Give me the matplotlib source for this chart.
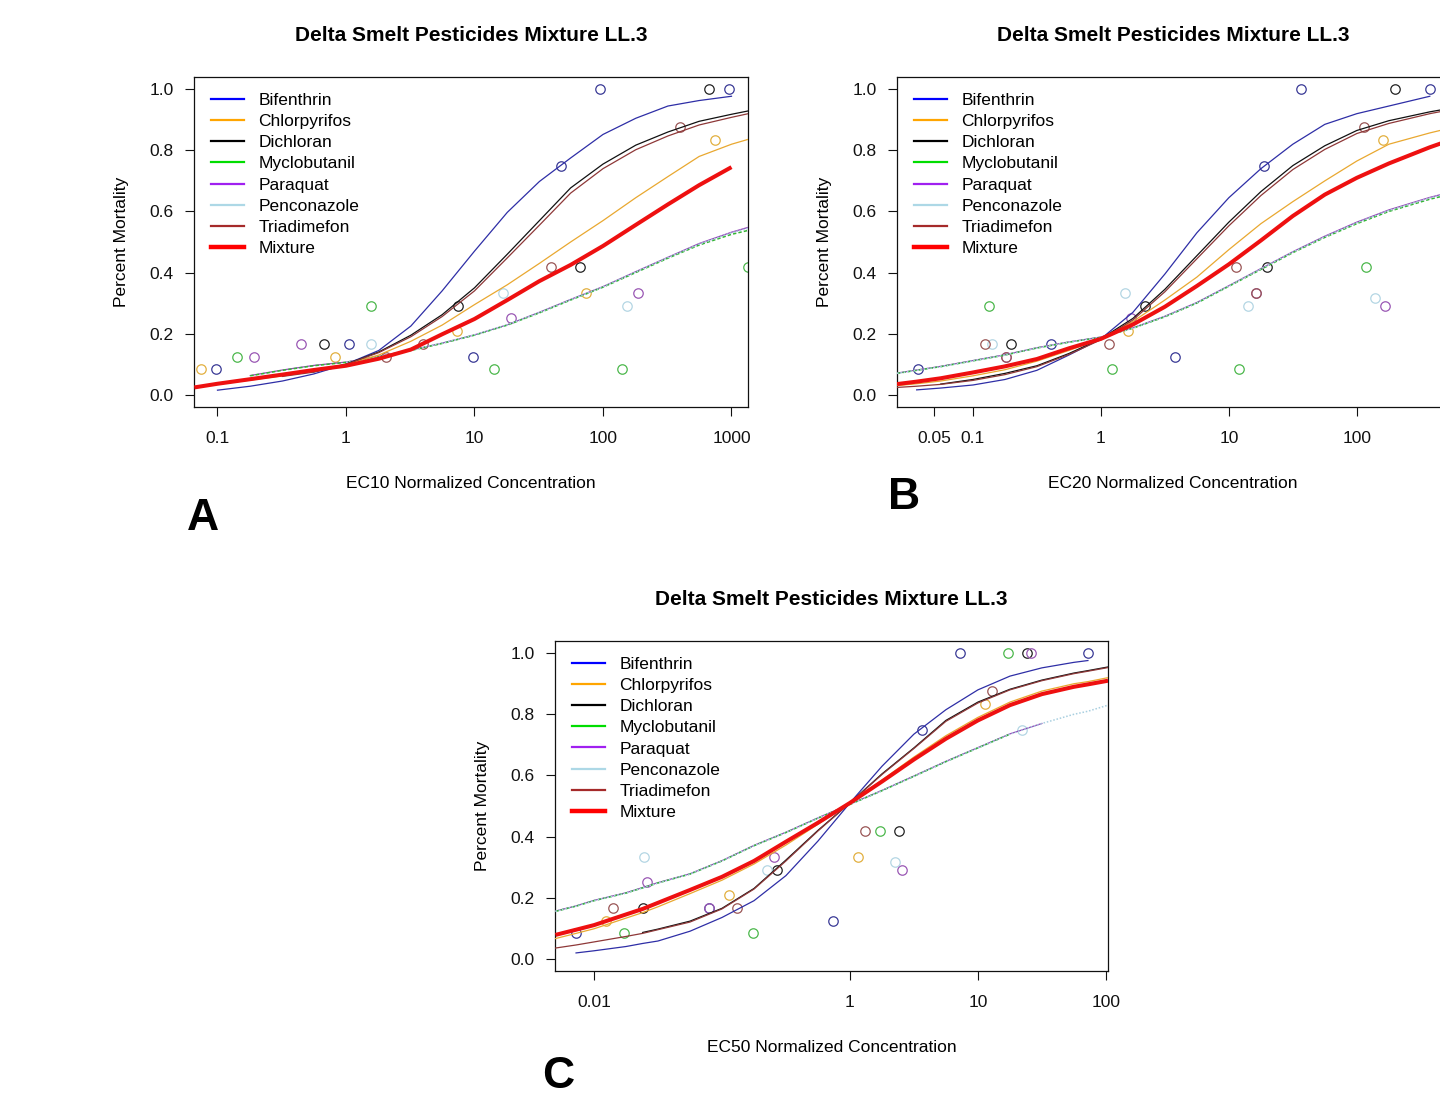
import matplotlib
matplotlib.use('Agg')
import matplotlib.pyplot as plt
from matplotlib.lines import Line2D
from matplotlib.ticker import NullLocator

nan = float('nan')

chemicals = ['Bifenthrin', 'Chlorpyrifos', 'Dichloran', 'Myclobutanil',
             'Paraquat', 'Penconazole', 'Triadimefon', 'Mixture']

# ---- panel A (EC10) : fitted curves
a_conc = [0.066, 0.1, 0.18, 0.32, 0.56, 1, 1.8, 3.2, 5.6, 10, 18, 32, 56, 100,
          180, 320, 560, 1000, 1350]
a_bifenthrin = [nan, 0.015, 0.028, 0.045, 0.068, 0.10, 0.145, 0.225, 0.34, 0.47,
                0.597, 0.698, 0.775, 0.852, 0.905, 0.945, 0.963, 0.977, nan]
a_chlorpyrifos = [nan, 0.035, 0.048, 0.062, 0.08, 0.10, 0.13, 0.175, 0.228, 0.295,
                  0.36, 0.43, 0.5, 0.57, 0.645, 0.714, 0.78, 0.82, 0.836]
a_dichloran = [nan, nan, nan, nan, 0.075, 0.10, 0.14, 0.195, 0.262, 0.35,
               0.46, 0.57, 0.677, 0.755, 0.817, 0.86, 0.895, 0.918, 0.929]
a_myclobutanil = [nan, nan, 0.062, 0.08, 0.095, 0.106, 0.125, 0.145, 0.168, 0.195,
                  0.228, 0.268, 0.31, 0.352, 0.40, 0.447, 0.49, 0.525, 0.538]
a_paraquat = [nan, nan, 0.063, 0.081, 0.096, 0.107, 0.126, 0.146, 0.169, 0.196,
              0.229, 0.27, 0.312, 0.354, 0.403, 0.45, 0.495, 0.532, 0.548]
a_penconazole = [nan, nan, nan, nan, nan, 0.106, 0.125, 0.146, 0.169, 0.196,
                 0.229, 0.269, 0.311, 0.353, 0.402, 0.449, 0.493, 0.53, 0.545]
a_triadimefon = [nan, nan, nan, 0.06, 0.074, 0.10, 0.138, 0.19, 0.256, 0.34,
                 0.448, 0.555, 0.66, 0.74, 0.802, 0.847, 0.883, 0.908, 0.92]
a_mixture = [0.024, 0.036, 0.051, 0.066, 0.081, 0.095, 0.118, 0.148, 0.198, 0.248,
             0.31, 0.372, 0.425, 0.487, 0.556, 0.623, 0.686, 0.745, nan]

# observed responses (concentration, mortality, chemical index)
a_pt_x = [0.098, 1.05, 9.7, 47, 94, 950,
          0.0745, 0.82, 7.3, 74, 740,
          0.675, 7.45, 66.6, 674,
          0.142, 1.57, 14.2, 140, 1350,
          0.192, 0.444, 19.2, 186,
          1.57, 16.7, 155,
          2.05, 3.98, 39.5, 400]
a_pt_y = [0.083, 0.167, 0.125, 0.75, 1.0, 1.0,
          0.083, 0.125, 0.208, 0.333, 0.833,
          0.167, 0.292, 0.417, 1.0,
          0.125, 0.292, 0.083, 0.083, 0.417,
          0.125, 0.167, 0.25, 0.333,
          0.167, 0.333, 0.292,
          0.125, 0.167, 0.417, 0.875]
a_pt_chem = [0] * 6 + [1] * 5 + [2] * 4 + [3] * 5 + [4] * 4 + [5] * 3 + [6] * 4

# ---- panel B (EC20)
b_conc = [0.0255, 0.0363, 0.056, 0.1, 0.178, 0.316, 0.562, 1, 1.78, 3.16, 5.62, 10,
          17.8, 31.6, 56.2, 100, 178, 372, 525]
b_bifenthrin = [nan, 0.016, 0.022, 0.032, 0.05, 0.08, 0.13, 0.183, 0.27, 0.395, 0.53,
                0.645, 0.74, 0.82, 0.885, 0.92, 0.945, 0.977, nan]
b_chlorpyrifos = [0.03, 0.036, 0.045, 0.062, 0.082, 0.11, 0.145, 0.183, 0.24, 0.31,
                  0.385, 0.475, 0.56, 0.632, 0.70, 0.765, 0.82, 0.857, 0.872]
b_dichloran = [nan, nan, 0.035, 0.05, 0.07, 0.095, 0.135, 0.183, 0.25, 0.345, 0.455,
               0.565, 0.665, 0.75, 0.815, 0.865, 0.897, 0.926, 0.937]
b_myclobutanil = [0.07, 0.08, 0.092, 0.111, 0.13, 0.153, 0.172, 0.188, 0.218, 0.255,
                  0.30, 0.355, 0.41, 0.465, 0.515, 0.56, 0.60, 0.64, 0.655]
b_paraquat = [0.071, 0.081, 0.093, 0.112, 0.131, 0.154, 0.173, 0.189, 0.219, 0.257,
              0.302, 0.357, 0.413, 0.468, 0.519, 0.565, 0.605, 0.646, 0.662]
b_penconazole = [0.07, 0.08, 0.092, 0.111, 0.13, 0.153, 0.172, 0.188, 0.218, 0.256,
                 0.301, 0.356, 0.412, 0.467, 0.517, 0.563, 0.603, 0.644, 0.66]
b_triadimefon = [0.024, 0.028, 0.034, 0.047, 0.066, 0.092, 0.132, 0.18, 0.245, 0.337,
                 0.445, 0.553, 0.652, 0.737, 0.803, 0.855, 0.888, 0.92, 0.932]
b_mixture = [0.035, 0.043, 0.054, 0.073, 0.093, 0.117, 0.152, 0.183, 0.23, 0.288,
             0.356, 0.427, 0.505, 0.585, 0.655, 0.71, 0.757, 0.81, 0.832]

b_pt_x = [0.037, 0.41, 3.8, 18.7, 36.8, 372,
          1.62, 161,
          0.198, 2.2, 19.8, 199,
          0.133, 1.22, 11.9, 119,
          0.18, 1.72, 16.2, 166,
          0.141, 1.54, 14, 139,
          0.124, 0.18, 1.15, 11.4, 16.2, 114]
b_pt_y = [0.083, 0.167, 0.125, 0.75, 1.0, 1.0,
          0.208, 0.833,
          0.167, 0.292, 0.417, 1.0,
          0.292, 0.083, 0.083, 0.417,
          0.125, 0.25, 0.333, 0.292,
          0.167, 0.333, 0.292, 0.316,
          0.167, 0.125, 0.167, 0.417, 0.333, 0.875]
b_pt_chem = [0] * 6 + [1] * 2 + [2] * 4 + [3] * 4 + [4] * 4 + [5] * 4 + [6] * 6

# ---- panel C (EC50)
c_conc = [0.005, 0.00724, 0.01, 0.0178, 0.024, 0.0316, 0.0562, 0.1, 0.178, 0.316,
          0.562, 1, 1.78, 3.16, 5.62, 10, 17.8, 31.6, 56.2, 72.4, 104]
c_bifenthrin = [nan, 0.019, 0.026, 0.04, 0.05, 0.058, 0.09, 0.135, 0.19, 0.272,
                0.385, 0.51, 0.63, 0.735, 0.815, 0.88, 0.925, 0.952, 0.97, 0.976, nan]
c_chlorpyrifos = [0.066, 0.083, 0.098, 0.133, 0.151, 0.17, 0.213, 0.257, 0.31, 0.372,
                  0.44, 0.51, 0.585, 0.66, 0.73, 0.79, 0.84, 0.876, 0.9, 0.907, 0.92]
c_dichloran = [nan, nan, nan, nan, 0.086, 0.097, 0.123, 0.165, 0.23, 0.323,
               0.42, 0.51, 0.605, 0.69, 0.78, 0.84, 0.882, 0.912, 0.935, 0.943, 0.955]
c_myclobutanil = [0.155, 0.172, 0.19, 0.215, 0.232, 0.248, 0.277, 0.32, 0.37, 0.413,
                  0.46, 0.505, 0.55, 0.597, 0.645, 0.69, 0.735, nan, nan, nan, nan]
c_paraquat = [0.156, 0.173, 0.191, 0.216, 0.233, 0.249, 0.278, 0.321, 0.371, 0.414,
              0.461, 0.506, 0.551, 0.598, 0.646, 0.691, 0.736, 0.77, nan, nan, nan]
c_penconazole = [0.155, 0.172, 0.19, 0.215, 0.232, 0.248, 0.277, 0.32, 0.37, 0.413,
                 0.46, 0.505, 0.55, 0.597, 0.645, 0.69, 0.735, 0.77, 0.80, 0.81, 0.83]
c_triadimefon = [0.035, 0.045, 0.055, 0.073, 0.083, 0.095, 0.12, 0.163, 0.228, 0.32,
                 0.418, 0.51, 0.603, 0.688, 0.777, 0.837, 0.88, 0.91, 0.933, 0.941, 0.953]
c_mixture = [0.078, 0.095, 0.11, 0.145, 0.163, 0.183, 0.225, 0.268, 0.32, 0.383,
             0.445, 0.51, 0.58, 0.652, 0.72, 0.78, 0.83, 0.866, 0.89, 0.898, 0.91]

c_pt_x = [0.00726, 0.0796, 0.74, 3.67, 7.26, 73,
          0.0125, 0.113, 1.15, 11.3,
          0.024, 0.267, 2.42, 24.2,
          0.0173, 0.174, 1.71, 17.3,
          0.0258, 0.0796, 0.257, 2.55, 25.8,
          0.0245, 0.226, 2.24, 22.3,
          0.0142, 0.13, 1.3, 13]
c_pt_y = [0.083, 0.167, 0.125, 0.75, 1.0, 1.0,
          0.125, 0.208, 0.333, 0.833,
          0.167, 0.292, 0.417, 1.0,
          0.083, 0.083, 0.417, 1.0,
          0.25, 0.167, 0.333, 0.292, 1.0,
          0.333, 0.292, 0.316, 0.75,
          0.167, 0.167, 0.417, 0.875]
c_pt_chem = [0] * 6 + [1] * 4 + [2] * 4 + [3] * 4 + [4] * 5 + [5] * 4 + [6] * 4

legend_colors = ['#0000ff', '#ffa500', '#000000', '#00dd00',
                 '#a020f0', '#add8e6', '#a52a2a', '#ff0000']
curve_colors = ['#2e2ea6', '#e9a830', '#111111', '#33b533',
                '#9448b8', '#a8cfe0', '#8e3838', '#ee1010']
point_colors = ['#3a3a96', '#e2b040', '#222222', '#4cb84c',
                '#9a58b4', '#b4d6e4', '#9a5656']

plt.rcParams['font.family'] = ['Liberation Sans', 'DejaVu Sans']

FS = 12.5
fig = plt.figure(figsize=(14.4, 10.97), dpi=100)


def draw_panel(rect, conc, curves, pt_x, pt_y, pt_chem, xlim, ticks, ticklabels, xlabel):
    ax = fig.add_axes(rect)
    ax.set_xscale('log')
    for x, y, k in zip(pt_x, pt_y, pt_chem):
        ax.plot(x, y, 'o', ms=6.8, mfc='none', mec=point_colors[k], mew=0.9, zorder=2)
    # myclobutanil / paraquat / penconazole overlap, so dash two of them
    styles = {3: dict(ls=(0, (2.2, 1.4)), lw=1.1), 4: dict(ls='-', lw=0.9),
              5: dict(ls=(0, (1, 1.2)), lw=1.1)}
    for k in [4, 3, 5, 0, 1, 2, 6]:
        st = styles.get(k, dict(ls='-', lw=0.9))
        ax.plot(conc, curves[k], color=curve_colors[k], zorder=3, **st)
    ax.plot(conc, curves[7], color=curve_colors[7], lw=2.9, zorder=4,
            solid_capstyle='butt')
    ax.set_xlim(*xlim)
    ax.set_ylim(-0.04, 1.04)
    ax.set_xticks(ticks)
    ax.set_xticklabels(ticklabels)
    ax.xaxis.set_minor_locator(NullLocator())
    ax.set_yticks([0, 0.2, 0.4, 0.6, 0.8, 1.0])
    ax.set_yticklabels(['0.0', '0.2', '0.4', '0.6', '0.8', '1.0'])
    ax.tick_params(axis='both', direction='out', length=6.5, width=0.8,
                   labelsize=FS, colors='#111111')
    ax.tick_params(axis='x', pad=11)
    ax.tick_params(axis='y', pad=8)
    for s in ax.spines.values():
        s.set_linewidth(0.9)
        s.set_color('#111111')
    ax.set_title('Delta Smelt Pesticides Mixture LL.3', fontsize=15,
                 fontweight='bold', pad=26)
    ax.set_xlabel(xlabel, fontsize=FS)
    ax.xaxis.set_label_coords(0.5, -0.21)
    ax.set_ylabel('Percent Mortality', fontsize=FS)
    ax.yaxis.set_label_coords(-0.118, 0.5)
    handles = [Line2D([], [], color=c, lw=3.2 if i == 7 else 1.6)
               for i, c in enumerate(legend_colors)]
    ax.legend(handles, chemicals, loc='upper left', bbox_to_anchor=(0.03, 0.953),
              frameon=False, fontsize=FS, borderpad=0, borderaxespad=0,
              handlelength=1.9, handletextpad=0.85, labelspacing=0.35)
    return ax


draw_panel([0.1347, 0.6290, 0.3847, 0.3008], a_conc,
           [a_bifenthrin, a_chlorpyrifos, a_dichloran, a_myclobutanil,
            a_paraquat, a_penconazole, a_triadimefon, a_mixture],
           a_pt_x, a_pt_y, a_pt_chem, (10 ** -1.183, 10 ** 3.128),
           [0.1, 1, 10, 100, 1000], ['0.1', '1', '10', '100', '1000'],
           'EC10 Normalized Concentration')

draw_panel([0.6229, 0.6290, 0.3833, 0.3008], b_conc,
           [b_bifenthrin, b_chlorpyrifos, b_dichloran, b_myclobutanil,
            b_paraquat, b_penconazole, b_triadimefon, b_mixture],
           b_pt_x, b_pt_y, b_pt_chem, (10 ** -1.594, 10 ** 2.72),
           [0.05, 0.1, 1, 10, 100], ['0.05', '0.1', '1', '10', '100'],
           'EC20 Normalized Concentration')

draw_panel([0.3854, 0.1149, 0.3840, 0.3008], c_conc,
           [c_bifenthrin, c_chlorpyrifos, c_dichloran, c_myclobutanil,
            c_paraquat, c_penconazole, c_triadimefon, c_mixture],
           c_pt_x, c_pt_y, c_pt_chem, (10 ** -2.305, 10 ** 2.016),
           [0.01, 1, 10, 100], ['0.01', '1', '10', '100'],
           'EC50 Normalized Concentration')

for letter, px, py in [('A', 203, 518), ('B', 904, 498), ('C', 558, 1076)]:
    fig.text(px / 1440, 1 - py / 1097, letter, fontsize=32, fontweight='bold',
             ha='center', va='center')

fig.savefig('out.png', dpi=100)
plt.close(fig)
